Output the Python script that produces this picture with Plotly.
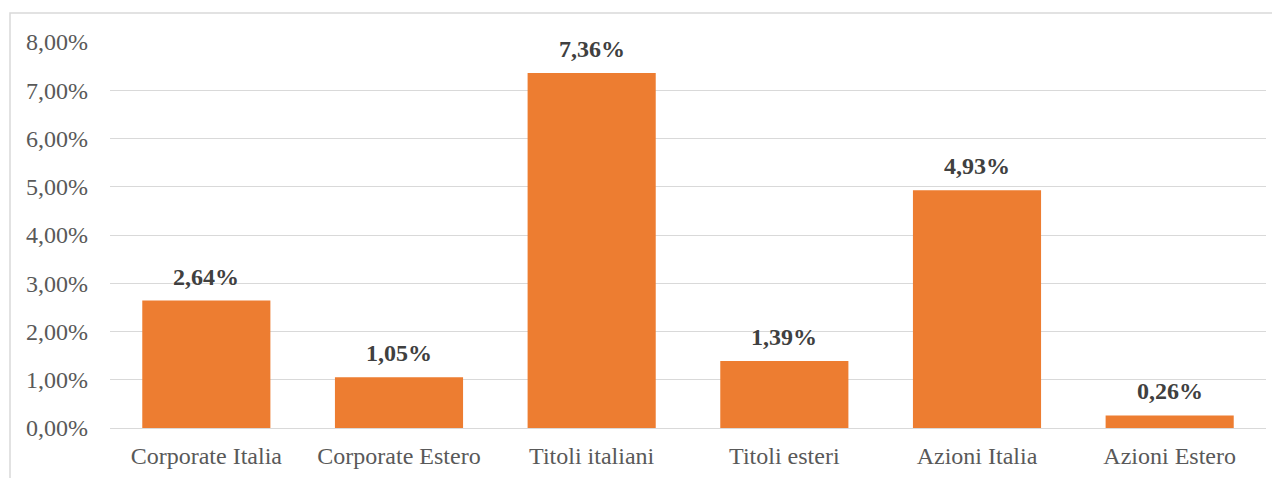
import plotly.graph_objects as go

categories = ["Corporate Italia", "Corporate Estero", "Titoli italiani", "Titoli esteri", "Azioni Italia", "Azioni Estero"]
values = [0.0264, 0.0105, 0.0736, 0.0139, 0.0493, 0.0026]
tick_vals = [0, 0.01, 0.02, 0.03, 0.04, 0.05, 0.06, 0.07, 0.08]

# page has an 8px body margin, so figure coords = screen coords - 8
L, R, T, B = 102, 22, 34, 58
W, H = 1280, 478
pw, ph = W - L - R, H - T - B

fig = go.Figure(go.Bar(
    x=categories, y=values,
    marker=dict(color="#ED7D31", line=dict(width=0)),
    hoverinfo="x+y",
))

for c, v in zip(categories, values):
    fig.add_annotation(
        x=c, y=v, xref="x", yref="y",
        text=f"{v*100:.2f}".replace(".", ",") + "%",
        showarrow=False, yanchor="bottom", yshift=9,
        font=dict(family="Liberation Serif", size=24, color="#404040", weight="bold"),
    )

fig.update_layout(
    width=W, height=H,
    margin=dict(l=L, r=R, t=T, b=B),
    paper_bgcolor="white", plot_bgcolor="white",
    separators=",.",
    bargap=0.335,
    showlegend=False,
    font=dict(family="Liberation Serif", size=24, color="#595959"),
    xaxis=dict(showgrid=False, showline=False, ticks="", ticklabelstandoff=11,
               tickfont=dict(size=24, color="#595959")),
    yaxis=dict(range=[0, 0.08], tickvals=tick_vals, tickformat=".2%",
               showgrid=True, gridcolor="#d9d9d9", gridwidth=1.3,
               zeroline=True, zerolinecolor="#d9d9d9", zerolinewidth=1.3,
               showline=False, ticks="", ticklabelstandoff=21,
               tickfont=dict(size=24, color="#595959")),
    shapes=[dict(type="rect", xref="paper", yref="paper",
                 x0=(2 - L) / pw, x1=(W + 20 - L) / pw,
                 y0=-(H + 20 - T - ph) / ph, y1=(H - B - 5) / ph,
                 line=dict(color="#d9d9d9", width=1.5), fillcolor="rgba(0,0,0,0)", layer="below")],
)

fig.write_html("out.html")
